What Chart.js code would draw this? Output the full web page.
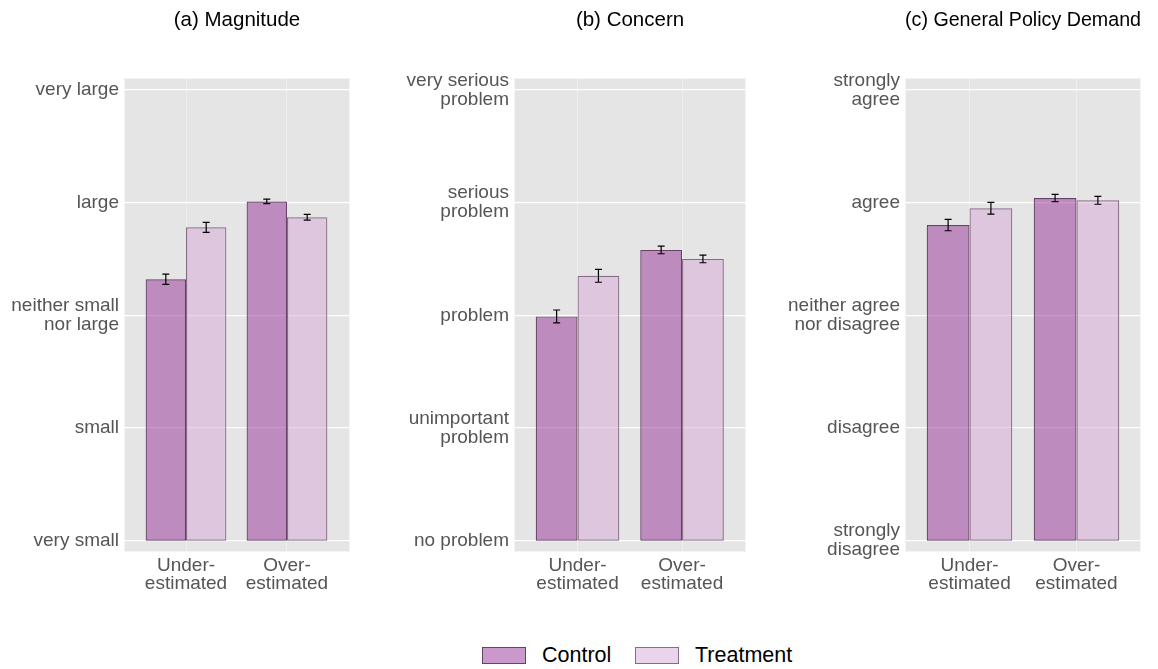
<!DOCTYPE html>
<html>
<head>
<meta charset="utf-8">
<script src="https://cdn.jsdelivr.net/npm/chart.js@4.4.1/dist/chart.umd.min.js"></script>
<style>
    html, body { margin: 0; padding: 0; background: #fff; }
    body { width: 1158px; height: 669px; position: relative; overflow: hidden;
           font-family: 'Liberation Sans', Arial, sans-serif; }
    .panel { position: absolute; top: 0; height: 600px; }
    .legend { position: absolute; top: 644px; left: 0; width: 1158px; height: 24px; }
    .legend .box { position: absolute; top: 3px; width: 42px; height: 15px; border: 1px solid; }
    .legend .label { position: absolute; top: 0; font-size: 21.5px; line-height: 22px; color: #000; }
</style>
</head>
<body>
<div class="panel" style="left:0;width:360px"><canvas id="magnitudeChart"></canvas></div>
<div class="panel" style="left:380px;width:376px"><canvas id="concernChart"></canvas></div>
<div class="panel" style="left:770px;width:388px"><canvas id="policyChart"></canvas></div>
<div class="legend">
    <div class="box" style="left:482px;background:rgba(152,50,152,0.5);border-color:#654366"></div>
    <div class="label" style="left:542px">Control</div>
    <div class="box" style="left:635px;background:rgba(216,168,216,0.5);border-color:#856d85"></div>
    <div class="label" style="left:695px">Treatment</div>
</div>
<script>
// categories on the x axis (1 = under-estimated, 2 = over-estimated)
const categories = [['Under-', 'estimated'], ['Over-', 'estimated']];
const seriesNames = ['Control', 'Treatment'];

// (a) Magnitude
const magnitudeTicks = ['very small', 'small', ['neither small', 'nor large'], 'large', 'very large'];
const magnitudeControl = [3.32, 4.01];
const magnitudeTreatment = [3.78, 3.87];
const magnitudeControlErr = [0.046, 0.020];
const magnitudeTreatmentErr = [0.045, 0.026];

// (b) Concern
const concernTicks = ['no problem', ['unimportant', 'problem'], 'problem', ['serious', 'problem'], ['very serious', 'problem']];
const concernControl = [2.99, 3.58];
const concernTreatment = [3.35, 3.50];
const concernControlErr = [0.057, 0.034];
const concernTreatmentErr = [0.057, 0.034];

// (c) General Policy Demand
const policyTicks = [['strongly', 'disagree'], 'disagree', ['neither agree', 'nor disagree'], 'agree', ['strongly', 'agree']];
const policyControl = [3.80, 4.04];
const policyTreatment = [3.95, 4.02];
const policyControlErr = [0.050, 0.032];
const policyTreatmentErr = [0.052, 0.035];

const FONT = "'Liberation Sans', Arial, sans-serif";
const colors = {
    control: { fill: 'rgba(152,50,152,0.5)', border: '#654366' },
    treatment: { fill: 'rgba(216,168,216,0.5)', border: '#856d85' }
};

// grey panel behind the plot area, white frame like matplotlib's ggplot style
const panelBackground = {
    id: 'panelBackground',
    beforeDraw(chart) {
        const { ctx, chartArea: a } = chart;
        ctx.save();
        ctx.fillStyle = '#e5e5e5';
        ctx.fillRect(a.left, a.top, a.right - a.left, a.bottom - a.top);
        ctx.strokeStyle = '#f4f4f4';
        ctx.lineWidth = 1;
        ctx.strokeRect(a.left + 0.5, a.top + 0.5, a.right - a.left - 1, a.bottom - a.top - 1);
        ctx.restore();
    }
};

// vertical error bars with small caps
const errorBars = {
    id: 'errorBars',
    afterDatasetsDraw(chart) {
        const { ctx } = chart;
        const yScale = chart.scales.y;
        ctx.save();
        ctx.strokeStyle = '#000';
        ctx.lineWidth = 1.2;
        chart.data.datasets.forEach((ds, di) => {
            const meta = chart.getDatasetMeta(di);
            meta.data.forEach((bar, i) => {
                const v = ds.data[i].y[1];
                const e = ds.errors[i];
                const top = yScale.getPixelForValue(v + e);
                const bottom = yScale.getPixelForValue(v - e);
                const x = bar.x;
                ctx.beginPath();
                ctx.moveTo(x, top); ctx.lineTo(x, bottom);
                ctx.moveTo(x - 3.5, top); ctx.lineTo(x + 3.5, top);
                ctx.moveTo(x - 3.5, bottom); ctx.lineTo(x + 3.5, bottom);
                ctx.stroke();
            });
        });
        ctx.restore();
    }
};

function toBars(values) {
    return values.map((v, i) => ({ x: i + 1, y: [1, v] }));
}

function createPanel(canvasId, title, tickLabels, control, treatment, controlErr, treatmentErr, layout) {
    const ctx = document.getElementById(canvasId).getContext('2d');
    return new Chart(ctx, {
        type: 'bar',
        data: {
            datasets: [
                {
                    label: seriesNames[0],
                    data: toBars(control),
                    errors: controlErr,
                    backgroundColor: colors.control.fill,
                    borderColor: colors.control.border,
                    borderWidth: 1.2,
                    borderSkipped: false
                },
                {
                    label: seriesNames[1],
                    data: toBars(treatment),
                    errors: treatmentErr,
                    backgroundColor: colors.treatment.fill,
                    borderColor: colors.treatment.border,
                    borderWidth: 1.2,
                    borderSkipped: false
                }
            ]
        },
        options: {
            responsive: true,
            maintainAspectRatio: false,
            animation: false,
            categoryPercentage: 0.8,
            barPercentage: 1,
            layout: { padding: { left: 0, right: layout.padRight, top: 0, bottom: 0 } },
            plugins: {
                legend: { display: false },
                tooltip: { enabled: false },
                title: {
                    display: true,
                    text: title,
                    fullSize: false,
                    color: '#000',
                    font: { family: FONT, size: 20.5, weight: 'normal' },
                    padding: { top: 7.7, bottom: 45.7 }
                }
            },
            scales: {
                x: {
                    type: 'linear',
                    offset: false,
                    min: layout.xMin,
                    max: layout.xMax,
                    afterBuildTicks: (scale) => { scale.ticks = [{ value: 1 }, { value: 2 }]; },
                    afterFit: (scale) => { scale.height = 48; },
                    border: { display: false },
                    grid: { offset: false, color: 'rgba(255,255,255,0.5)', lineWidth: 0.8, drawTicks: false },
                    ticks: {
                        autoSkip: false,
                        maxRotation: 0,
                        padding: 5,
                        color: '#555555',
                        font: { family: FONT, size: 19, lineHeight: 0.95 },
                        callback: (value) => categories[value - 1]
                    }
                },
                y: {
                    type: 'linear',
                    min: 0.9,
                    max: 5.105,
                    afterBuildTicks: (scale) => { scale.ticks = [1, 2, 3, 4, 5].map(v => ({ value: v })); },
                    afterFit: (scale) => { scale.width = layout.yWidth; },
                    border: { display: false },
                    grid: { color: '#ffffff', lineWidth: 1.2, drawTicks: false },
                    ticks: {
                        autoSkip: false,
                        padding: 5,
                        color: '#555555',
                        font: { family: FONT, size: 19, lineHeight: 1.0 },
                        callback: (value) => tickLabels[value - 1]
                    }
                }
            }
        },
        plugins: [panelBackground, errorBars]
    });
}

createPanel('magnitudeChart', '(a) Magnitude', magnitudeTicks,
    magnitudeControl, magnitudeTreatment, magnitudeControlErr, magnitudeTreatmentErr,
    { yWidth: 124, padRight: 10, xMin: 0.386, xMax: 2.624 });

createPanel('concernChart', '(b) Concern', concernTicks,
    concernControl, concernTreatment, concernControlErr, concernTreatmentErr,
    { yWidth: 134, padRight: 10, xMin: 0.392, xMax: 2.612 });

createPanel('policyChart', '(c) General Policy Demand', policyTicks,
    policyControl, policyTreatment, policyControlErr, policyTreatmentErr,
    { yWidth: 135, padRight: 17, xMin: 0.397, xMax: 2.603 });
</script>
</body>
</html>
